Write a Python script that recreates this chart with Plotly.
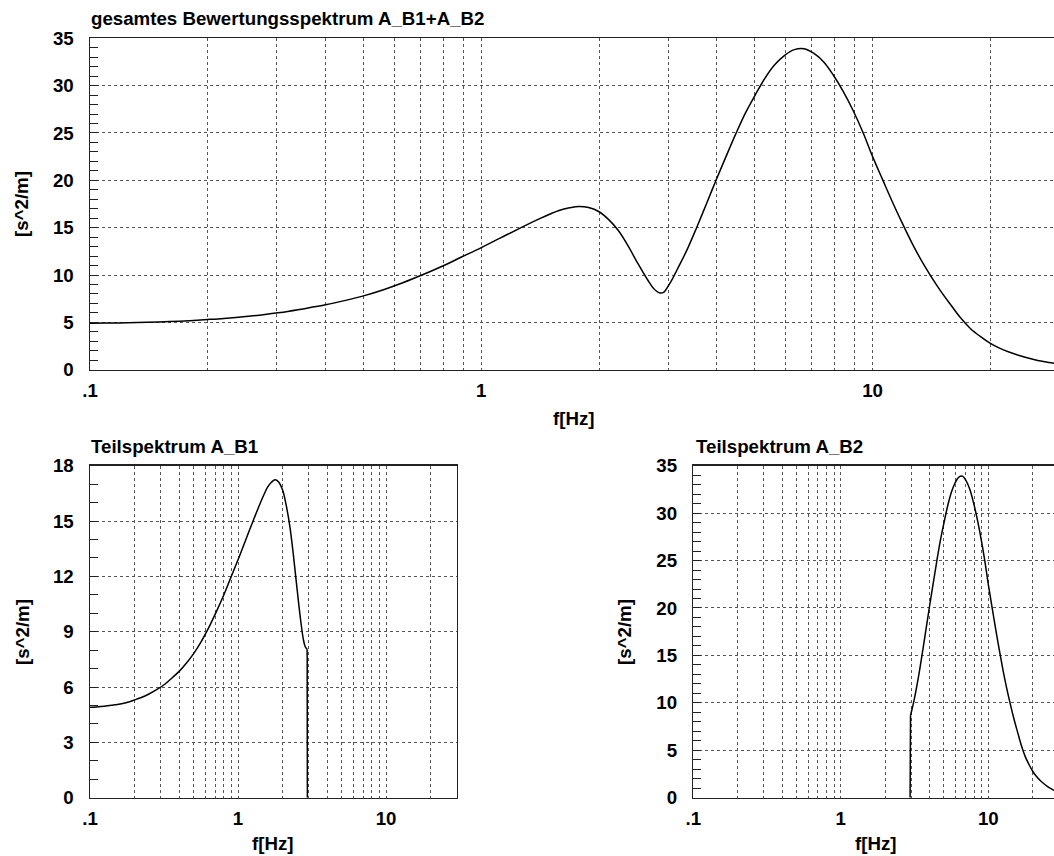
import plotly.graph_objects as go
import math

# ---------------- data ----------------
# part spectrum A_B1 (lower left panel)
b1_freq = [0.1, 0.11, 0.125, 0.14, 0.16, 0.18, 0.2, 0.22, 0.25, 0.28, 0.32, 0.35, 0.4, 0.45, 0.5,
           0.56, 0.63, 0.71, 0.8, 0.89, 1.0, 1.12, 1.26, 1.41, 1.5, 1.58, 1.68, 1.78, 1.88, 2.0,
           2.11, 2.24, 2.37, 2.51, 2.66, 2.76, 2.84, 2.93, 2.94]
b1_vals = [4.90, 4.92, 4.96, 5.01, 5.08, 5.18, 5.30, 5.42, 5.62, 5.84, 6.15, 6.42, 6.85, 7.32, 7.80,
           8.42, 9.18, 10.05, 10.98, 11.90, 12.90, 13.92, 14.98, 15.95, 16.45, 16.82, 17.10, 17.24, 17.12, 16.68,
           15.90, 14.70, 13.10, 11.25, 9.50, 8.60, 8.20, 8.05, 0.0]

# part spectrum A_B2 (lower right panel)
b2_freq = [2.95, 2.97, 3.0, 3.16, 3.35, 3.55, 3.76, 3.98, 4.22, 4.47, 4.73, 5.01, 5.31, 5.62, 5.96,
           6.31, 6.68, 7.08, 7.5, 7.94, 8.41, 8.91, 9.44, 10.0, 10.6, 11.2, 11.9, 12.6, 13.3,
           14.1, 14.9, 15.8, 16.8, 17.8, 18.8, 20.0, 21.1, 22.4, 23.7, 25.1, 26.6, 28.2, 30.0]
b2_vals = [0.0, 8.70, 8.95, 10.50, 12.60, 15.00, 17.50, 20.00, 22.50, 24.90, 27.10, 29.00, 30.80, 32.20, 33.20,
           33.80, 33.90, 33.40, 32.50, 31.10, 29.40, 27.40, 25.10, 22.50, 20.10, 17.85, 15.50, 13.40, 11.60,
           9.86, 8.35, 6.91, 5.45, 4.33, 3.55, 2.79, 2.28, 1.84, 1.50, 1.20, 0.95, 0.75, 0.65]

# total spectrum around the B1/B2 junction (upper panel, smooth valley)
valley_freq = [2.76, 2.86, 2.93, 3.0, 3.08]
valley_vals = [8.55, 8.10, 8.20, 8.80, 9.60]

grid_freq = [0.1, 0.2, 0.3, 0.4, 0.5, 0.6, 0.7, 0.8, 0.9,
             1, 2, 3, 4, 5, 6, 7, 8, 9,
             10, 20, 30]
grid_text = [".1", "", "", "", "", "", "", "", "",
             "1", "", "", "", "", "", "", "", "",
             "10", "", ""]

top_yticks = [0, 5, 10, 15, 20, 25, 30, 35]
b1_yticks = [0, 3, 6, 9, 12, 15, 18]
b2_yticks = [0, 5, 10, 15, 20, 25, 30, 35]

title_top = "gesamtes Bewertungsspektrum A_B1+A_B2"
title_b1 = "Teilspektrum A_B1"
title_b2 = "Teilspektrum A_B2"
x_title = "f[Hz]"
y_title = "[s^2/m]"

# smooth (non-zero) parts and the vertical jumps of each part spectrum
b1_f_pos = [f for f, v in zip(b1_freq, b1_vals) if v > 0]
b1_v_pos = [v for v in b1_vals if v > 0]
b2_f_pos = [f for f, v in zip(b2_freq, b2_vals) if v > 0]
b2_v_pos = [v for v in b2_vals if v > 0]
# total spectrum A_B1 + A_B2: B1 below the junction, B2 above it
tot_freq = ([f for f in b1_freq if f < valley_freq[0]] + valley_freq
            + [f for f in b2_freq if f > valley_freq[-1]])
tot_vals = ([v for f, v in zip(b1_freq, b1_vals) if f < valley_freq[0]] + valley_vals
            + [v for f, v in zip(b2_freq, b2_vals) if f > valley_freq[-1]])

# ---------------- layout helpers ----------------
W, H = 1054, 856
FONT = "Liberation Sans, Arial, Helvetica, sans-serif"
FS = 18.7


def px(x):
    return x / W


def py(y):
    return 1 - y / H


fig = go.Figure()
line_style = dict(color="black", width=1.5, shape="spline", smoothing=1.0)
jump_style = dict(color="black", width=1.5)
fig.add_trace(go.Scatter(x=tot_freq, y=tot_vals, mode="lines", line=line_style,
                         xaxis="x", yaxis="y", showlegend=False))
fig.add_trace(go.Scatter(x=b1_f_pos, y=b1_v_pos, mode="lines", line=line_style,
                         xaxis="x2", yaxis="y2", showlegend=False))
fig.add_trace(go.Scatter(x=b1_freq[-2:], y=b1_vals[-2:], mode="lines", line=jump_style,
                         xaxis="x2", yaxis="y2", showlegend=False))
fig.add_trace(go.Scatter(x=b2_f_pos, y=b2_v_pos, mode="lines", line=line_style,
                         xaxis="x3", yaxis="y3", showlegend=False))
fig.add_trace(go.Scatter(x=b2_freq[:2], y=b2_vals[:2], mode="lines", line=jump_style,
                         xaxis="x3", yaxis="y3", showlegend=False))

tickfont = dict(family=FONT, size=FS, color="black", weight="bold")
gridcol = "#555555"


def xaxis(domain, rng, anchor):
    return dict(type="log", domain=domain, range=rng, anchor=anchor,
                tickmode="array", tickvals=grid_freq, ticktext=grid_text,
                ticks="", showgrid=True, gridcolor=gridcol, griddash="dot", gridwidth=1,
                showline=True, linecolor="#222222", linewidth=1.5, mirror=True,
                zeroline=False, tickfont=tickfont, ticklabelstandoff=3,
                automargin=False, fixedrange=True)


def yaxis(domain, rng, ticks, anchor, mirror):
    return dict(domain=domain, range=rng, anchor=anchor,
                tickmode="array", tickvals=ticks,
                ticks="inside", ticklen=8, tickcolor="#222222",
                minor=dict(dtick=1, ticks="inside", ticklen=8, tickcolor="#222222", showgrid=False),
                showgrid=True, gridcolor=gridcol, griddash="dot", gridwidth=1,
                showline=True, linecolor="#222222", linewidth=1.5, mirror=mirror,
                zeroline=False, tickfont=tickfont, ticklabelstandoff=11,
                automargin=False, fixedrange=True)


top_dom_x = [px(90), 1.0]
top_dom_y = [py(369.7), py(38.3)]
b1_dom_x = [px(90), px(456.7)]
b2_dom_x = [px(693.3), 1.0]
bot_dom_y = [py(797.7), py(465.7)]

fig.update_layout(
    width=W, height=H,
    margin=dict(l=0, r=0, t=0, b=0, autoexpand=False),
    paper_bgcolor="white", plot_bgcolor="white",
    template="none",
    showlegend=False,
    xaxis=xaxis(top_dom_x, [-1, -1 + (1054 - 90) / 391.3], "y"),
    yaxis=yaxis(top_dom_y, [0, 35], top_yticks, "x", False),
    xaxis2=xaxis(b1_dom_x, [-1, math.log10(30)], "y2"),
    yaxis2=yaxis(bot_dom_y, [0, 18], b1_yticks, "x2", True),
    xaxis3=xaxis(b2_dom_x, [-1, -1 + (1054 - 693.3) / 147.5], "y3"),
    yaxis3=yaxis(bot_dom_y, [0, 35], b2_yticks, "x3", False),
)

ann_font = dict(family=FONT, size=FS, color="black", weight="bold")
anns = [
    dict(text=title_top, x=px(89), y=py(31), xanchor="left", yanchor="bottom"),
    dict(text=title_b1, x=px(89), y=py(459), xanchor="left", yanchor="bottom"),
    dict(text=title_b2, x=px(694), y=py(459), xanchor="left", yanchor="bottom"),
    dict(text=x_title, x=px(574), y=py(419), xanchor="center", yanchor="middle"),
    dict(text=x_title, x=px(273), y=0.0, xanchor="center", yanchor="bottom"),
    dict(text=x_title, x=px(876), y=0.0, xanchor="center", yanchor="bottom"),
    dict(text=y_title, x=px(22), y=py(204), xanchor="center", yanchor="middle", textangle=-90),
    dict(text=y_title, x=px(22), y=py(632), xanchor="center", yanchor="middle", textangle=-90),
    dict(text=y_title, x=px(624), y=py(632), xanchor="center", yanchor="middle", textangle=-90),
]
for a in anns:
    a.update(xref="paper", yref="paper", showarrow=False, font=ann_font)
fig.update_layout(annotations=anns)

fig.write_html(
    "out.html",
    config={"displayModeBar": False, "staticPlot": True},
    post_script="document.body.style.margin='0';document.body.style.padding='0';"
                "document.body.style.overflow='hidden';",
)
